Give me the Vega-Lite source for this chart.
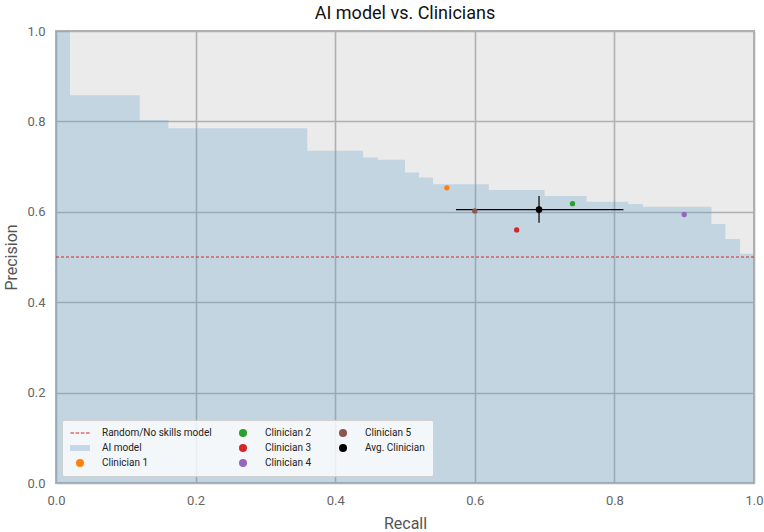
{
  "$schema": "https://vega.github.io/schema/vega-lite/v6.json",
  "autosize": "none",
  "padding": {"left": 56, "top": 31, "right": 10, "bottom": 49},
  "width": 698,
  "height": 452,
  "title": {"text": "AI model vs. Clinicians", "fontSize": 18, "fontWeight": "normal", "font": "Roboto", "color": "#111111", "offset": 2},
  "config": {
    "view": {"fill": "#ebebeb", "stroke": "#b0b0b0", "strokeWidth": 2},
    "axis": {
      "domain": false, "ticks": false, "grid": true, "gridColor": "#b0b0b0", "gridWidth": 1.6, "labelFlush": false,
      "labelFont": "Roboto", "labelFontSize": 13, "labelColor": "#666666", "labelPadding": 11,
      "titleFont": "Roboto", "titleFontSize": 16, "titleColor": "#555555", "titleFontWeight": "normal"
    },
    "legend": {
      "labelFont": "Roboto", "labelFontSize": 10, "labelColor": "#222222"
    }
  },
  "layer": [
    {
      "data": {"values": [
        {"recall": 0.0, "precision": 1.0},
        {"recall": 0.02, "precision": 0.858},
        {"recall": 0.12, "precision": 0.803},
        {"recall": 0.161, "precision": 0.785},
        {"recall": 0.36, "precision": 0.735},
        {"recall": 0.44, "precision": 0.72},
        {"recall": 0.461, "precision": 0.715},
        {"recall": 0.5, "precision": 0.687},
        {"recall": 0.52, "precision": 0.676},
        {"recall": 0.54, "precision": 0.661},
        {"recall": 0.62, "precision": 0.648},
        {"recall": 0.70, "precision": 0.635},
        {"recall": 0.76, "precision": 0.622},
        {"recall": 0.82, "precision": 0.617},
        {"recall": 0.841, "precision": 0.611},
        {"recall": 0.939, "precision": 0.573},
        {"recall": 0.959, "precision": 0.54},
        {"recall": 0.98, "precision": 0.507},
        {"recall": 1.0, "precision": 0.507}
      ]},
      "mark": {"type": "area", "interpolate": "step-after", "color": "#619ec8", "opacity": 0.29},
      "encoding": {
        "x": {"field": "recall", "type": "quantitative", "title": "Recall",
              "scale": {"domain": [0, 1], "nice": false, "zero": false},
              "axis": {"values": [0, 0.2, 0.4, 0.6, 0.8, 1.0], "format": ".1f", "titlePadding": 8, "titleAnchor": "middle"}},
        "y": {"field": "precision", "type": "quantitative", "title": "Precision",
              "scale": {"domain": [0, 1], "nice": false},
              "axis": {"values": [0, 0.2, 0.4, 0.6, 0.8, 1.0], "format": ".1f", "titlePadding": 7}}
      }
    },
    {
      "data": {"values": [{"precision": 0.5}]},
      "mark": {"type": "rule", "color": "#d62728", "strokeWidth": 1, "strokeDash": [3, 2]},
      "encoding": {"y": {"field": "precision", "type": "quantitative"}}
    },
    {
      "data": {"values": [{"recall": 0.692, "precision": 0.605, "rlo": 0.573, "rhi": 0.813, "plo": 0.576, "phi": 0.635}]},
      "layer": [
        {
          "mark": {"type": "rule", "color": "#000000", "strokeWidth": 1.2},
          "encoding": {
            "x": {"field": "rlo", "type": "quantitative"},
            "x2": {"field": "rhi"},
            "y": {"field": "precision", "type": "quantitative"}
          }
        },
        {
          "mark": {"type": "rule", "color": "#000000", "strokeWidth": 1.2},
          "encoding": {
            "x": {"field": "recall", "type": "quantitative"},
            "y": {"field": "plo", "type": "quantitative"},
            "y2": {"field": "phi"}
          }
        }
      ]
    },
    {
      "data": {"values": [
        {"name": "Clinician 1", "recall": 0.56, "precision": 0.653, "size": 28},
        {"name": "Clinician 2", "recall": 0.74, "precision": 0.618, "size": 28},
        {"name": "Clinician 3", "recall": 0.66, "precision": 0.56, "size": 28},
        {"name": "Clinician 4", "recall": 0.90, "precision": 0.594, "size": 28},
        {"name": "Clinician 5", "recall": 0.60, "precision": 0.602, "size": 28},
        {"name": "Avg. Clinician", "recall": 0.692, "precision": 0.605, "size": 45}
      ]},
      "mark": {"type": "point", "filled": true, "opacity": 1},
      "encoding": {
        "x": {"field": "recall", "type": "quantitative"},
        "y": {"field": "precision", "type": "quantitative"},
        "size": {"field": "size", "type": "quantitative", "scale": null, "legend": null},
        "color": {
          "field": "name", "type": "nominal",
          "scale": {
            "domain": ["Random/No skills model", "AI model", "Clinician 1", "Clinician 2", "Clinician 3", "Clinician 4", "Clinician 5", "Avg. Clinician"],
            "range": ["#d62728", "#c6d9ea", "#ff7f0e", "#2ca02c", "#d62728", "#9467bd", "#8c564b", "#000000"]
          },
          "legend": {
            "title": null, "orient": "none", "legendX": 6, "legendY": 389, "direction": "vertical", "columns": 3,
            "columnPadding": 21, "rowPadding": 5, "padding": 8,
            "fillColor": "rgba(255,255,255,0.8)", "strokeColor": "#d0d0d0", "cornerRadius": 2,
            "symbolSize": 64, "symbolStrokeWidth": 0, "symbolOffset": 5, "labelOffset": 17
          }
        },
        "shape": {
          "field": "name", "type": "nominal",
          "scale": {
            "domain": ["Random/No skills model", "AI model", "Clinician 1", "Clinician 2", "Clinician 3", "Clinician 4", "Clinician 5", "Avg. Clinician"],
            "range": [
              "M-2.4,-0.15H-1.5V0.15H-2.4Z M-1.1,-0.15H-0.2V0.15H-1.1Z M0.2,-0.15H1.1V0.15H0.2Z M1.5,-0.15H2.4V0.15H1.5Z",
              "M-2.5,-0.75H2.5V0.75H-2.5Z",
              "circle", "circle", "circle", "circle", "circle", "circle"
            ]
          }
        }
      }
    }
  ]
}
